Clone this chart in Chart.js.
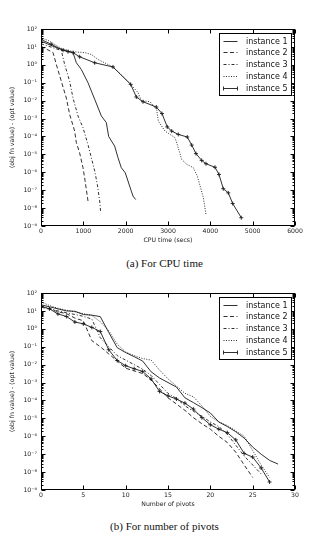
<!DOCTYPE html>
<html>
<head>
<meta charset="utf-8">
<script src="https://cdn.jsdelivr.net/npm/chart.js@4.4.1/dist/chart.umd.min.js"></script>
<style>
  body { margin: 0; background: #fff; width: 329px; height: 533px; position: relative; overflow: hidden; }
  .box { position: absolute; left: 0; width: 329px; height: 250px; }
  .cap { position: absolute; left: 0; width: 329px; text-align: center; font: normal 11px "Liberation Serif", serif; color: #111; line-height: 13px; }
</style>
</head>
<body>
<div class="box" style="top:0"><canvas id="cpuChart"></canvas></div>
<div class="cap" style="top:257px">(a) For CPU time</div>
<div class="box" style="top:264px"><canvas id="pivotChart"></canvas></div>
<div class="cap" style="top:520px">(b) For number of pivots</div>
<script>
const instanceNames = ['instance 1', 'instance 2', 'instance 3', 'instance 4', 'instance 5'];

// (a) objective gap vs CPU time (secs)
const cpuTime1 = [0, 402, 756, 835, 953, 1110, 1268, 1425, 1543, 1598, 1740, 1819, 1897, 1991, 2133, 2173, 2236];
const cpuGap1 = [21, 8.3, 4.8, 1.3, 0.55, 0.1, 1.2e-2, 1.4e-3, 5.9e-4, 1.0e-4, 2.9e-5, 6.5e-6, 1.8e-6, 9.3e-7, 8.9e-8, 4.7e-8, 3.0e-8];
const cpuTime2 = [0, 284, 362, 480, 598, 677, 795, 835, 913, 992, 1031, 1110];
const cpuGap2 = [11, 4.8, 1.05, 0.12, 1.4e-2, 1.7e-3, 2.0e-4, 4.5e-5, 1.2e-5, 1.8e-6, 4.9e-7, 2.5e-8];
const cpuTime3 = [0, 480, 559, 677, 756, 874, 992, 1110, 1189, 1268, 1330, 1386, 1410];
const cpuGap3 = [15, 6.3, 1.05, 0.12, 1.4e-2, 1.4e-3, 3.1e-4, 3.5e-5, 6.5e-6, 1.2e-6, 2.1e-7, 2.5e-8, 5.5e-9];
const cpuTime4 = [0, 165, 480, 756, 1031, 1189, 1346, 1700, 2055, 2291, 2370, 2575, 2732, 2771, 2929, 3165, 3220, 3323, 3441, 3598, 3693, 3772, 3835, 3897];
const cpuGap4 = [32, 23, 8.3, 5.4, 4.8, 3.8, 2.0, 0.76, 0.12, 2.8e-2, 1.0e-2, 8.7e-3, 3.2e-3, 7.2e-4, 2.0e-4, 8.5e-5, 3.5e-5, 5.2e-6, 2.8e-6, 1.8e-6, 6.2e-7, 1.3e-7, 3.8e-8, 4.4e-9];
const cpuTime5 = [0, 244, 520, 638, 756, 913, 1268, 1700, 2118, 2252, 2409, 2724, 2858, 2983, 3087, 3243, 3456, 3560, 3661, 3796, 3897, 4110, 4204, 4306, 4424, 4528, 4731];
const cpuGap5 = [26, 14, 6.5, 5.4, 4.8, 2.8, 1.3, 0.76, 8.1e-2, 1.6e-2, 8.7e-3, 4.4e-3, 1.9e-3, 3.4e-4, 2.0e-4, 1.3e-4, 9.3e-5, 3.3e-5, 1.1e-5, 4.6e-6, 3.0e-6, 1.9e-6, 7.6e-7, 1.2e-7, 7.1e-8, 1.8e-8, 2.9e-9];

// (b) objective gap vs number of pivots
const pivotCount = [0, 1, 2, 3, 4, 5, 6, 7, 8, 9, 10, 11, 12, 13, 14, 15, 16, 17, 18, 19, 20, 21, 22, 23, 24, 25, 26, 27, 28];
const pivotGap1 = [22, 17, 13, 10, 9.5, 6.3, 5.8, 4.8, 0.63, 0.089, 0.047, 0.028, 0.016, 4.0e-3, 1.8e-3, 1.0e-3, 5.6e-4, 1.4e-4, 7.6e-5, 4.0e-5, 2.0e-5, 6.3e-6, 3.5e-6, 1.8e-6, 7.9e-7, 2.5e-7, 1.0e-7, 4.5e-8, 2.8e-8];
const pivotGap2 = [16, 13, 8.9, 7.1, 4.0, 2.8, 0.22, 0.1, 0.04, 0.016, 6.3e-3, 4.5e-3, 3.2e-3, 1.4e-3, 4.5e-4, 1.4e-4, 6.3e-5, 2.8e-5, 1.1e-5, 5.0e-6, 2.5e-6, 1.0e-6, 4.5e-7, 1.3e-7, 2.5e-8, 5.0e-9];
const pivotGap3 = [20, 14, 10, 7.9, 6.3, 5.0, 3.5, 0.32, 0.1, 0.032, 0.018, 0.01, 5.6e-3, 2.5e-3, 7.9e-4, 2.5e-4, 1.3e-4, 5.0e-5, 2.5e-5, 1.3e-5, 6.3e-6, 3.5e-6, 1.3e-6, 3.2e-7, 7.9e-8, 2.5e-8, 7.9e-9];
const pivotGap4 = [32, 20, 14, 11, 8.9, 7.1, 5.6, 2.5, 0.79, 0.14, 0.05, 0.032, 0.022, 0.018, 5.0e-3, 1.6e-3, 6.3e-4, 2.5e-4, 1.6e-4, 5.0e-5, 1.3e-5, 6.3e-6, 4.0e-6, 2.0e-6, 1.0e-6, 1.6e-7, 2.5e-8, 5.0e-9];
const pivotGap5 = [18, 13, 6.8, 4.9, 2.4, 1.9, 1.2, 0.71, 0.068, 0.017, 8.7e-3, 5.9e-3, 4.2e-3, 1.6e-3, 3.2e-4, 1.8e-4, 1.2e-4, 7.1e-5, 3.3e-5, 1.1e-5, 4.4e-6, 2.5e-6, 1.6e-6, 6.3e-7, 1.1e-7, 6.9e-8, 1.7e-8, 2.8e-9];

const yTickValues = [1e2, 1e1, 1e0, 1e-1, 1e-2, 1e-3, 1e-4, 1e-5, 1e-6, 1e-7, 1e-8, 1e-9];
const yTickLabels = ['10²', '10¹', '10⁰', '10⁻¹', '10⁻²', '10⁻³', '10⁻⁴', '10⁻⁵', '10⁻⁶', '10⁻⁷', '10⁻⁸', '10⁻⁹'];
const cpuTicks = [0, 1000, 2000, 3000, 4000, 5000, 6000];
const pivotTicks = [0, 5, 10, 15, 20, 25, 30];

const dashes = [[], [4, 2.5], [3, 2, 1, 2], [1, 1.5], []];
const FONT = '"DejaVu Sans", sans-serif';
const INK = '#1a1a1a';

function toPoints(xs, ys) {
    return ys.map((y, i) => ({ x: xs[i], y: y }));
}

function makeDatasets(xLists, yLists) {
    return yLists.map((ys, i) => ({
        label: instanceNames[i],
        data: toPoints(xLists[i], ys),
        borderColor: INK,
        backgroundColor: INK,
        borderWidth: 0.9,
        borderDash: dashes[i],
        tension: 0,
        fill: false,
        pointStyle: 'cross',
        pointRadius: i === 4 ? 2 : 0,
        pointBorderWidth: 0.9,
        pointBorderColor: INK
    }));
}

// box, inward ticks and legend, drawn the way matplotlib does it
const framePlugin = {
    id: 'frame',
    afterDraw(chart) {
        const { ctx, chartArea: a, scales } = chart;
        const L = Math.round(a.left) + 0.5, R = Math.round(a.right) - 0.5;
        const T = Math.round(a.top) + 0.5, B = Math.round(a.bottom) - 0.5;
        ctx.save();
        ctx.strokeStyle = '#000';
        ctx.lineWidth = 1;
        ctx.setLineDash([]);
        ctx.strokeRect(L, T, R - L, B - T);
        ctx.beginPath();
        scales.x.ticks.forEach(t => {
            const px = Math.round(scales.x.getPixelForValue(t.value)) + 0.5;
            ctx.moveTo(px, B); ctx.lineTo(px, B - 4);
            ctx.moveTo(px, T); ctx.lineTo(px, T + 4);
        });
        yTickValues.forEach((v, k) => {
            for (let m = 1; m < 10; m++) {
                if (k === 0 && m > 1) break;
                const py = Math.round(scales.y.getPixelForValue(v * m)) + 0.5;
                const len = m === 1 ? 4 : 2;
                ctx.moveTo(L, py); ctx.lineTo(L + len, py);
                ctx.moveTo(R, py); ctx.lineTo(R - len, py);
            }
        });
        ctx.stroke();

        // legend
        const w = 72, h = 62;
        const lx = Math.round(a.right) - 4 - w + 0.5, ly = Math.round(a.top) + 4 + 0.5;
        ctx.fillStyle = '#fff';
        ctx.fillRect(lx, ly, w, h);
        ctx.strokeRect(lx, ly, w, h);
        ctx.font = '8px ' + FONT;
        ctx.textBaseline = 'middle';
        ctx.strokeStyle = INK;
        ctx.lineWidth = 0.9;
        chart.data.datasets.forEach((ds, i) => {
            const y = Math.round(ly + 7 + i * 11.9) + 0.5;
            ctx.beginPath();
            ctx.setLineDash(ds.borderDash);
            ctx.moveTo(lx + 4, y); ctx.lineTo(lx + 18, y);
            ctx.stroke();
            ctx.setLineDash([]);
            if (ds.pointRadius > 0) {
                ctx.beginPath();
                [lx + 4, lx + 18].forEach(px => {
                    ctx.moveTo(px, y - 2); ctx.lineTo(px, y + 2);
                });
                ctx.stroke();
            }
            ctx.fillStyle = '#111';
            ctx.fillText(ds.label, lx + 26.5, y);
        });
        ctx.restore();
    }
};

function makeOptions(xMax, xTicks, xTitle) {
    return {
        responsive: true,
        maintainAspectRatio: false,
        animation: false,
        layout: { padding: { top: 29, right: 34, bottom: 6, left: 0 } },
        plugins: { legend: { display: false }, tooltip: { enabled: false } },
        scales: {
            x: {
                type: 'linear',
                min: 0,
                max: xMax,
                afterBuildTicks: scale => { scale.ticks = xTicks.map(v => ({ value: v })); },
                afterFit: scale => { scale.height = 18; },
                grid: { display: false, drawTicks: false },
                border: { display: false },
                ticks: { padding: 2, color: '#222', font: { family: FONT, size: 6.2 }, maxRotation: 0, callback: v => String(v) },
                title: { display: true, text: xTitle, color: '#222', padding: 0, font: { family: FONT, size: 6.2 } }
            },
            y: {
                type: 'logarithmic',
                min: 1e-9,
                max: 1e2,
                afterBuildTicks: scale => { scale.ticks = yTickValues.map(v => ({ value: v })); },
                afterFit: scale => { scale.width = 41; },
                grid: { display: false, drawTicks: false },
                border: { display: false },
                ticks: {
                    padding: 4,
                    autoSkip: false,
                    color: '#222',
                    font: { family: FONT, size: 6.2 },
                    callback: v => yTickLabels[yTickValues.indexOf(v)] || ''
                },
                title: { display: true, text: '(obj fn value) - (opt value)', color: '#222', padding: { top: 8.5, bottom: 0 }, font: { family: FONT, size: 6.2 } }
            }
        }
    };
}

new Chart(document.getElementById('cpuChart'), {
    type: 'line',
    data: {
        datasets: makeDatasets(
            [cpuTime1, cpuTime2, cpuTime3, cpuTime4, cpuTime5],
            [cpuGap1, cpuGap2, cpuGap3, cpuGap4, cpuGap5])
    },
    options: makeOptions(6000, cpuTicks, 'CPU time (secs)'),
    plugins: [framePlugin]
});

new Chart(document.getElementById('pivotChart'), {
    type: 'line',
    data: {
        datasets: makeDatasets(
            [pivotCount, pivotCount, pivotCount, pivotCount, pivotCount],
            [pivotGap1, pivotGap2, pivotGap3, pivotGap4, pivotGap5])
    },
    options: makeOptions(30, pivotTicks, 'Number of pivots'),
    plugins: [framePlugin]
});
</script>
</body>
</html>
